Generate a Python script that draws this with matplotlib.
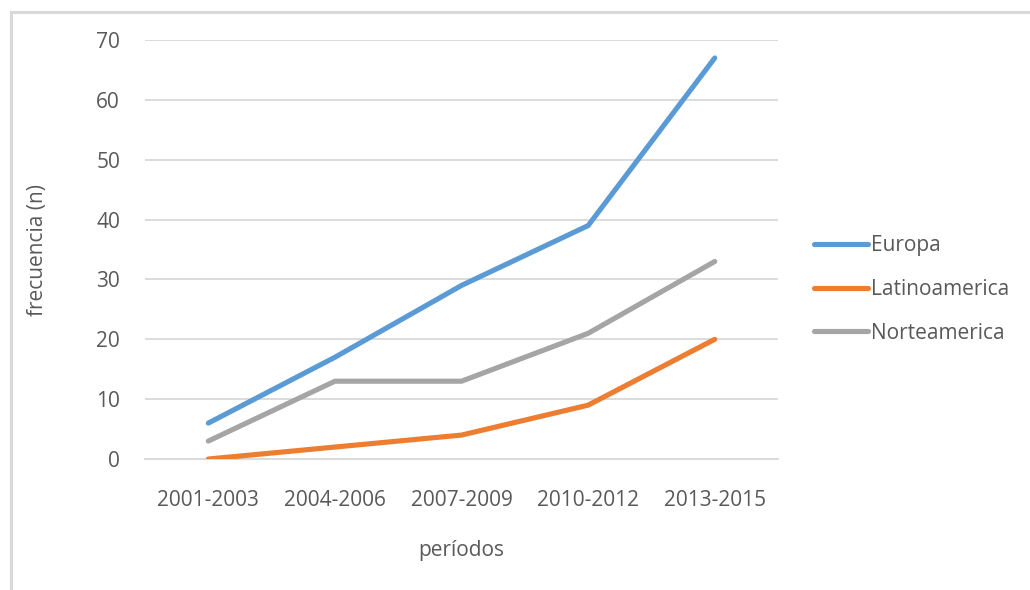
import matplotlib.pyplot as plt
from matplotlib.lines import Line2D

periodos = ["2001-2003", "2004-2006", "2007-2009", "2010-2012", "2013-2015"]
europa = [6, 17, 29, 39, 67]
latinoamerica = [0, 2, 4, 9, 20]
norteamerica = [3, 13, 13, 21, 33]

series = [
    ("Europa", europa, "#5B9BD5"),
    ("Latinoamerica", latinoamerica, "#ED7D31"),
    ("Norteamerica", norteamerica, "#A5A5A5"),
]

plt.rcParams['font.family'] = ['Open Sans', 'DejaVu Sans']
texto = "#595959"

fig = plt.figure(figsize=(10.3, 5.9), dpi=100)
ax = fig.add_axes([0.1408, 0.2220, 0.6146, 0.7102])

# marco exterior gris claro: solo se ven el borde izquierdo y el superior
bx = 10.5 / 1030
by = 1 - 11.5 / 590
fig.add_artist(Line2D([bx, bx], [0, by], transform=fig.transFigure,
                      color="#d9d9d9", linewidth=2.2))
fig.add_artist(Line2D([bx, 1], [by, by], transform=fig.transFigure,
                      color="#d9d9d9", linewidth=2.2))

x = range(len(periodos))
for nombre, valores, color in series:
    ax.plot(x, valores, color=color, linewidth=3.7, solid_capstyle="round",
            solid_joinstyle="round", label=nombre, zorder=3)

ax.set_xlim(-0.5, len(periodos) - 0.5)
ax.set_ylim(0, 70)
ax.set_yticks(range(0, 71, 10))
ax.set_xticks(list(x))
ax.set_xticklabels(periodos)
ax.yaxis.grid(True, color="#d9d9d9", linewidth=1.3)
ax.set_axisbelow(True)
for s in ["top", "right", "left"]:
    ax.spines[s].set_visible(False)
ax.spines["bottom"].set_color("#d9d9d9")
ax.spines["bottom"].set_linewidth(1.3)
ax.tick_params(axis="both", length=0, labelsize=15, colors=texto)
ax.tick_params(axis="y", pad=18)
ax.tick_params(axis="x", pad=22)

ax.set_ylabel("frecuencia (n)", fontsize=15, color=texto, labelpad=35)
ax.set_xlabel("períodos", fontsize=15, color=texto, labelpad=21)

leg = ax.legend(loc="center left", bbox_to_anchor=(1.043, 0.405), frameon=False,
                fontsize=15, handlelength=2.6, handletextpad=0.15,
                labelspacing=1.1, borderaxespad=0)
for t in leg.get_texts():
    t.set_color(texto)

fig.savefig("out.png", dpi=100, facecolor="white")
